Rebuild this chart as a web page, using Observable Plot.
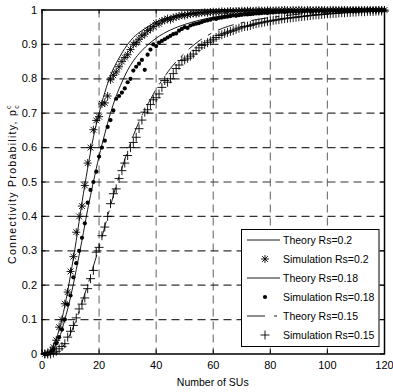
<!DOCTYPE html>
<html><head><meta charset="utf-8">
<script src="https://cdn.jsdelivr.net/npm/d3@7"></script>
<script src="https://cdn.jsdelivr.net/npm/@observablehq/plot@0.6"></script>
<style>body{margin:0;background:#fff}</style>
</head><body><div id="chart"></div>
<script>
// ---- data ----
const xTicks = [0, 20, 40, 60, 80, 100, 120];
const yTicks = [0, 0.1, 0.2, 0.3, 0.4, 0.5, 0.6, 0.7, 0.8, 0.9, 1];
const xGrid = [20, 40, 60, 80, 100];
const yGrid = [0.1, 0.2, 0.3, 0.4, 0.5, 0.6, 0.7, 0.8, 0.9];
const legendLabels = ["Theory Rs=0.2", "Simulation Rs=0.2", "Theory Rs=0.18", "Simulation Rs=0.18", "Theory Rs=0.15", "Simulation Rs=0.15"];

// simulation values for N = 1..120
const sim20 = [
  0, 0.002, 0.008, 0.02, 0.04, 0.078, 0.10, 0.146, 0.18, 0.24,
  0.283, 0.354, 0.40, 0.43, 0.49, 0.555, 0.60, 0.652, 0.679, 0.69,
  0.727, 0.73, 0.75, 0.797, 0.81, 0.82, 0.835, 0.85, 0.862, 0.87,
  0.885, 0.9, 0.905, 0.915, 0.925, 0.93, 0.94, 0.945, 0.952, 0.962,
  0.96, 0.968, 0.97, 0.975, 0.972, 0.978, 0.98, 0.982, 0.985, 0.984,
  0.987, 0.988, 0.99, 0.989, 0.991, 0.992, 0.993, 0.992, 0.994, 0.995,
  0.994, 0.995, 0.996, 0.995, 0.996, 0.997, 0.996, 0.997, 0.997, 0.998,
  0.997, 0.998, 0.998, 0.997, 0.998, 0.999, 0.998, 0.998, 0.999, 0.999,
  0.998, 0.999, 0.999, 0.999, 1, 0.999, 0.999, 1, 0.999, 1,
  1, 0.999, 1, 1, 0.999, 1, 1, 1, 1, 0.999,
  1, 1, 1, 1, 1, 1, 1, 1, 1, 1,
  1, 1, 1, 1, 1, 1, 1, 1, 1, 1
];
const sim18 = [
  0, 0, 0.004, 0.012, 0.031, 0.049, 0.071, 0.10, 0.144, 0.17,
  0.223, 0.264, 0.30, 0.338, 0.38, 0.44, 0.477, 0.50, 0.53, 0.574,
  0.60, 0.62, 0.66, 0.68, 0.708, 0.742, 0.75, 0.76, 0.772, 0.79,
  0.80, 0.824, 0.835, 0.844, 0.855, 0.826, 0.87, 0.885, 0.90, 0.895,
  0.905, 0.91, 0.915, 0.92, 0.925, 0.93, 0.932, 0.94, 0.945, 0.95,
  0.948, 0.955, 0.958, 0.96, 0.962, 0.965, 0.968, 0.97, 0.972, 0.975,
  0.974, 0.977, 0.978, 0.98, 0.981, 0.982, 0.984, 0.983, 0.985, 0.986,
  0.987, 0.987, 0.988, 0.989, 0.99, 0.99, 0.991, 0.992, 0.991, 0.993,
  0.993, 0.994, 0.994, 0.995, 0.994, 0.995, 0.996, 0.996, 0.996, 0.997,
  0.997, 0.997, 0.998, 0.997, 0.998, 0.998, 0.998, 0.999, 0.998, 0.999,
  0.999, 0.999, 0.999, 0.999, 1, 0.999, 1, 0.999, 1, 1,
  1, 1, 0.999, 1, 1, 1, 1, 1, 1, 1
];
const sim15 = [
  0, 0, 0, 0.003, 0.008, 0.015, 0.022, 0.03, 0.049, 0.066,
  0.083, 0.105, 0.131, 0.145, 0.163, 0.19, 0.219, 0.243, 0.296, 0.31,
  0.344, 0.369, 0.40, 0.437, 0.466, 0.48, 0.51, 0.533, 0.555, 0.577,
  0.60, 0.615, 0.63, 0.655, 0.68, 0.703, 0.71, 0.725, 0.739, 0.745,
  0.756, 0.775, 0.795, 0.79, 0.80, 0.815, 0.83, 0.84, 0.853, 0.855,
  0.86, 0.866, 0.872, 0.882, 0.89, 0.897, 0.90, 0.905, 0.91, 0.915,
  0.92, 0.926, 0.928, 0.932, 0.935, 0.938, 0.94, 0.944, 0.947, 0.95,
  0.952, 0.953, 0.955, 0.958, 0.96, 0.962, 0.963, 0.965, 0.967, 0.968,
  0.97, 0.971, 0.972, 0.974, 0.975, 0.976, 0.977, 0.978, 0.979, 0.98,
  0.981, 0.982, 0.983, 0.984, 0.985, 0.986, 0.986, 0.987, 0.988, 0.989,
  0.989, 0.99, 0.99, 0.991, 0.992, 0.992, 0.993, 0.993, 0.994, 0.994,
  0.995, 0.995, 0.995, 0.996, 0.996, 0.996, 0.997, 0.997, 0.997, 0.997
];

// theory curves
const th20N = [0, 2, 4, 6, 8, 10, 12, 14, 16, 18, 20, 22, 24, 26, 28, 30, 32, 35, 40, 45, 50, 60, 70, 80, 100, 120];
const th20P = [0, 0.003, 0.025, 0.07, 0.14, 0.23, 0.33, 0.44, 0.54, 0.63, 0.70, 0.76, 0.81, 0.845, 0.875, 0.90, 0.92, 0.94, 0.965, 0.98, 0.988, 0.996, 0.998, 0.999, 1, 1];
const th18N = [0, 2, 4, 6, 8, 10, 12, 14, 16, 18, 20, 22, 24, 26, 28, 30, 32, 35, 40, 45, 50, 55, 60, 70, 80, 90, 100, 120];
const th18P = [0, 0.002, 0.015, 0.045, 0.10, 0.165, 0.245, 0.33, 0.42, 0.50, 0.575, 0.64, 0.70, 0.75, 0.79, 0.825, 0.852, 0.882, 0.918, 0.942, 0.958, 0.97, 0.979, 0.99, 0.995, 0.998, 0.999, 1];
const th15N = [0, 4, 6, 8, 10, 12, 14, 16, 18, 20, 22, 24, 26, 28, 30, 32, 34, 36, 38, 40, 42, 45, 50, 55, 60, 65, 70, 75, 80, 90, 100, 110, 120];
const th15P = [0, 0.002, 0.01, 0.03, 0.06, 0.10, 0.15, 0.20, 0.255, 0.31, 0.37, 0.43, 0.49, 0.54, 0.59, 0.635, 0.675, 0.71, 0.74, 0.77, 0.795, 0.83, 0.875, 0.91, 0.935, 0.952, 0.963, 0.972, 0.978, 0.988, 0.994, 0.997, 0.999];

// ---- build tables ----
const toSim = arr => arr.map((p, i) => ({n: i + 1, p}));
const toTh = (ns, ps) => ns.map((n, i) => ({n, p: ps[i]}));
const s20 = toSim(sim20), s18 = toSim(sim18), s15 = toSim(sim15);
const t20 = toTh(th20N, th20P), t18 = toTh(th18N, th18P), t15 = toTh(th15N, th15P);

const FONT = "'Liberation Sans Narrow', 'Arial Narrow', 'Liberation Sans', sans-serif";
const W = 393, H = 392, mL = 41.5, mR = 9, mT = 9.5, mB = 38.5;
const innerW = W - mL - mR, innerH = H - mT - mB, tl = 4;

const star8 = {
  draw(ctx, size) {
    const a = Math.sqrt(size / Math.PI) * 1.15, d = a * 0.72;
    ctx.moveTo(-a, 0); ctx.lineTo(a, 0);
    ctx.moveTo(0, -a); ctx.lineTo(0, a);
    ctx.moveTo(-d, -d); ctx.lineTo(d, d);
    ctx.moveTo(-d, d); ctx.lineTo(d, -d);
  }
};
const dash15 = "16,8,3,8";

const chart = Plot.plot({
  width: W, height: H,
  marginLeft: mL, marginRight: mR, marginTop: mT, marginBottom: mB,
  style: {fontFamily: FONT, fontSize: "11px", color: "#000", background: "#fff"},
  x: {domain: [0, 120]},
  y: {domain: [0, 1]},
  marks: [
    Plot.ruleX(xGrid, {x: d => d, stroke: "#7a7a7a", strokeWidth: 1.2, strokeDasharray: "8,5"}),
    Plot.ruleY(yGrid, {y: d => d, stroke: "#333", strokeWidth: 1.2, strokeDasharray: "8,5"}),
    // inward ticks on four sides
    Plot.ruleX(xTicks, {x: d => d, insetTop: innerH - tl, stroke: "#000"}),
    Plot.ruleX(xTicks, {x: d => d, insetBottom: innerH - tl, stroke: "#000"}),
    Plot.ruleY(yTicks, {y: d => d, insetRight: innerW - tl, stroke: "#000"}),
    Plot.ruleY(yTicks, {y: d => d, insetLeft: innerW - tl, stroke: "#000"}),
    Plot.line(t20, {x: "n", y: "p", stroke: "#000", strokeWidth: 0.9, curve: "monotone-x"}),
    Plot.line(t18, {x: "n", y: "p", stroke: "#000", strokeWidth: 0.9, curve: "monotone-x"}),
    Plot.line(t15, {x: "n", y: "p", stroke: "#000", strokeWidth: 0.9, curve: "monotone-x", strokeDasharray: dash15}),
    Plot.dot(s20, {x: "n", y: "p", symbol: star8, r: 3.5, fill: "none", stroke: "#000", strokeWidth: 0.9}),
    Plot.dot(s18, {x: "n", y: "p", r: 2.1, fill: "#000", stroke: "none"}),
    Plot.dot(s15, {x: "n", y: "p", symbol: "plus", r: 3, fill: "none", stroke: "#000", strokeWidth: 0.9}),
    Plot.frame({stroke: "#000", strokeWidth: 1.5}),
    Plot.axisX(xTicks, {tickSize: 0, tickPadding: 7, label: null, fontSize: 11}),
    Plot.axisY(yTicks, {tickSize: 0, tickPadding: 5, label: null, fontSize: 11, tickFormat: d => String(d)})
  ]
});

document.getElementById("chart").appendChild(chart);
const svg = chart.tagName.toLowerCase() === "svg" ? d3.select(chart) : d3.select(chart).select("svg");

// axis titles
svg.append("text")
  .attr("x", (mL + W - mR) / 2).attr("y", 386)
  .attr("text-anchor", "middle")
  .attr("font-family", FONT).attr("font-size", 10.5).attr("fill", "#000")
  .text("Number of SUs");

const yl = svg.append("text")
  .attr("transform", "translate(16,184) rotate(-90)")
  .attr("text-anchor", "middle")
  .attr("font-family", FONT).attr("font-size", 10.5).attr("fill", "#000")
  .attr("letter-spacing", 1.3);
yl.append("tspan").text("Connectivity Probability, p");
yl.append("tspan").attr("font-size", 7).attr("dy", 2.5).text("c");
yl.append("tspan").attr("font-size", 7).attr("dx", -5).attr("dy", -8).text("c");

// legend
const lg = svg.append("g").attr("font-family", FONT).attr("font-size", 10.5).attr("text-anchor", "start");
lg.append("rect").attr("x", 241.5).attr("y", 229.5).attr("width", 137.5).attr("height", 117)
  .attr("fill", "#fff").attr("stroke", "#000").attr("stroke-width", 1);
const rowY = [240, 259, 278, 297, 316, 335];
legendLabels.forEach((lab, i) => {
  const y = rowY[i];
  if (i % 2 === 0) {
    lg.append("line").attr("x1", 247).attr("x2", 280).attr("y1", y).attr("y2", y)
      .attr("stroke", "#000").attr("stroke-width", 0.9)
      .attr("stroke-dasharray", i === 4 ? "18,9,3,9" : null);
  } else if (i === 1) {
    lg.append("path").attr("transform", `translate(265,${y})`)
      .attr("d", d3.symbol().type(star8).size(3.5 * 3.5 * Math.PI)())
      .attr("fill", "none").attr("stroke", "#000").attr("stroke-width", 0.9);
  } else if (i === 3) {
    lg.append("circle").attr("cx", 265).attr("cy", y).attr("r", 2.1).attr("fill", "#000");
  } else {
    lg.append("path").attr("transform", `translate(265,${y})`)
      .attr("d", d3.symbol().type(d3.symbolPlus).size(3 * 3 * Math.PI)())
      .attr("fill", "none").attr("stroke", "#000").attr("stroke-width", 0.9);
  }
  lg.append("text").attr("x", 283).attr("y", y).attr("dy", "0.35em").attr("text-anchor", "start").attr("fill", "#000").text(lab);
});
</script>
</body></html>
